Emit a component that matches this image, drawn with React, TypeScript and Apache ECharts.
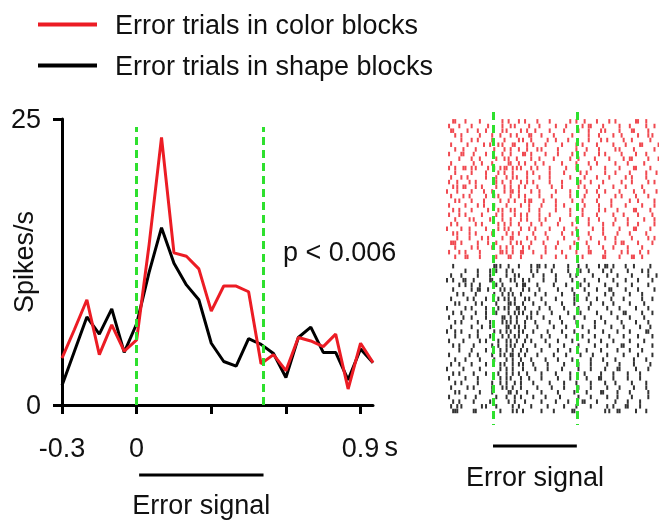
import React, { useEffect, useRef } from 'react';
import * as echarts from 'echarts';

const FONT = '"Liberation Sans", Arial, sans-serif';

// PSTH bins (s)
const times = [-0.3, -0.25, -0.2, -0.15, -0.1, -0.05, 0, 0.05, 0.1, 0.15, 0.2, 0.25, 0.3, 0.35, 0.4, 0.45, 0.5, 0.55, 0.6, 0.65, 0.7, 0.75, 0.8, 0.85, 0.9, 0.95];
const colorBlocks = [4.1, 6.6, 9.2, 4.4, 7.0, 4.7, 5.7, 14.0, 23.4, 13.3, 13.0, 11.9, 8.2, 10.4, 10.4, 9.9, 3.6, 4.4, 3.0, 5.9, 5.6, 5.1, 6.2, 1.4, 5.4, 3.7];
const shapeBlocks = [1.7, 4.7, 7.7, 6.2, 8.4, 4.6, 7.1, 11.6, 15.5, 12.4, 10.5, 9.2, 5.4, 3.8, 3.4, 5.8, 5.3, 4.5, 2.4, 5.9, 6.8, 4.6, 4.6, 2.2, 4.9, 3.7];
const seriesNames = ['Error trials in color blocks', 'Error trials in shape blocks'];
const xTickLabels = ['-0.3', '0', '0.9'];
const yTickLabels = ['0', '25'];
const errorSignal = [0, 0.51];
const signalTop = 24.3;

// Raster: one string per trial, '|' = spike; char i -> t = rasterStart + i * rasterStep
const rasterStart = -0.28;
const rasterStep = 0.0125;
const colorRaster = [
  '...||....|......|..........|..|....|..|.....|.....|.........|..|...|.....|.....|..|.........||...|.......',
  '.|....|.....|.......|......|...|.|......|....|.......|....|.......|..||.....|.......|....|.......|...|...|',
  '..||......|....|...|.......|.|......|..|...|......|......|......|....|.....|.|......|.....||......|......',
  '....|..|........|.....|...|....|..|.....||....|.....|........|.......|....|......|...|.......|....|.|....',
  '.......|....|..|......|.....|......|.|...|.......|...|.....|.........|.....|..|.......|...|........|....|',
  '..|.......|.......|..|...|.|....||.....|..|.....|.......|......|..|......|.......|.....|......||.......|.',
  '....|...|.....|........|....|..|...|...|....|.|.......|........|....|.....|.......|.|......|.........|..',
  '.|.....||....|.....|.......|...|.....||..|......|.....|......|.....|......|..|.......|......|....|......',
  '......|.....|...|.......|...|.|...|......|...|......|.......|...|.......|......|......|..||.......|....|.',
  '..|..........|...|....|.......||...|..|....|...|........|......|.....|...|........|.....|.......|......',
  '.|..|...||..|.|.....|..|..|.||..|.|.|....|..|.....|.......|....|......|......|......|......||......|...',
  '....|.......|......|.....|..|...|......|..|.......|......|.......|..|........|....|......|.......|....|',
  '..|....|..|........|....|....|..|.|....|.....|....|.........|......|.....|.....|.......|..|......|.....',
  '.|...|.....|..|.........|..|...|....|..|..|.......|.....|........|....|.....|........|....|.......|..|.',
  '...|.|..||....|..|......|...|..|...|..|.....|......|....|.......|..|......|......|.....|.......|.......',
  '|....|......|.....|...|.....|..||..|.....|...|.......|......|.......|....|...|......|......|....|.....|',
  '..|.....|..|.......|...|.|.....|...|..|......|.....|........|......|......|.......|..|......|.....|....',
  '....|.|.....|.....|.......|...|..|....|.||.....|.....|.......|....|......|......|........|...|.......|.',
  '.|.......|.....|..|....|.....|......|...|.....|......|...|.........|......|.....|......|.......|.....|..',
  '...|..|.....|.......|....|.|...|.|......|....|.......|......|.....|.......|..|.....|.......||......|...',
  '.|....|..|.......|......|..|.....|..|..|.....|....|.........|.....|......|.......|....|......|......|..',
  '....|......|.|.......|.....|...|....|..|.....|..|......|.......|.....|....|.......|.....|.......|....|.',
  '..|..|........|..|.......|..|..|...|.....|....|.......|......|.......|......|....|......|....|.......|..',
  '|......|...|.......|.....|..|.|.....|...|..|......|......|.....|.......|....|.......|......||......|...',
  '...|.|.....|..|.......|......|..|..|......|.....|.......|....|.......|......|......|.....|.......|.....',
  '.....|.....|.....|..|......|...||......|...|.....|.......|......|.....|......|....|.......|.......|..|.',
  '..|||..|.......|....|...|......|..|.|....|.....|......|.......|.....|.....|.......|..||......|......|..',
  '....|.......|..|......|...|..|..|....|..|.......|....|......|........|......|....|......|......|......',
  '.|....|..|......|.........||.|..|...||....|.....|.......|......|.....||......|.......|..|.....|...|....',
  '....|....||.....|.......|.....||....|.........|......|....|.......|.........||......|.....||...|.......',
];
const shapeRaster = [
  '...|...................||.|...|....|.....|..||..|...|......|....|...|.....|..||..|.....|...|.......|...',
  '.........|.....|.....|..|....|..|........|..|......|.......|.....|...|......|...|.......|......|..|....',
  '..|....|.......|.....|.......|...|.|......|....|.....|......|..|.......|......|....|......|.......|...|',
  '|..|....||...|.......||...|....|.|...|..|......|.....|.......|.....|......|......|.....|.....|......|..',
  '......|..|..|...|.......|..|......|..||.....|.......|.....|......|...|.......|.....|......|.......|....',
  '...|........|..||...|.....|.|..|.....|..|....|........|......|.....|.....|.....||......|.....|.......|.',
  '.....|..|.....|........|...|..|.|...|......|....|.......|.....|......|.......|...|.......|.....|......',
  '..|.......|..|.....|.....|..|.|..|....|.|.....|......|........|.....|....|......|.....|........|....|..',
  '....|.|.......|..|......|.....||.|...|....|.....|.......|.....|.......|.....|....|.......|......|.....',
  '|........|..|......|.....|..|.|...||..|......|....|......|......|....|........|.....|.......|.....|...',
  '...|...|......|....|....|.....|..|.|.|...|..|......|.......|.....|.......|......|.....||.......|....|.',
  '.|......|...|......|.......||..|..|....|.|.....|.......|......|....|.......|.......|.....|......|.....',
  '....|..|.......|.....|.....|.|.|..|...|....|......|.....|......|........|....|.......|......|.....|...',
  '..|.........|....|...|.......||..|.|..|.....|.......|.....|.......|.....|.......|.....|.......|....|...',
  '|...|..|.......|.......|..|..|.|...|.|....|......|......|.....|......|......|......|.....|.......||....',
  '....|......|...|.....|.....|..|..|.|...|......|...|.......|.......|.....|......|......|......|......|..',
  '.|......|.......|..|.....|...|.|..|...|..|......|.....|......|.......|.....|.....|.......|......|.....',
  '...|..|......|........|..|...|.|.|...|.....|......|......|......|.......|.....|......||......|......|..',
  '......|.....|......|......|..|..|...|..|......|.......|.....|.......|......|.......|.....|.....|.......',
  '.|.........|...|......|...|.|..||..|..|.....|.......|.....|......|.....|......|.......|......|......|..',
  '....|....|......|......|.....|..|...|....|......|.....|......|........|.....|.....|........|.....|....',
  '..|...|.....|......|......|.|...|..|.|....|......|.......|......|.....|.......|.....|......|.......|..',
  '|.......|.......|.........|..|..|....|.....|.....|......|.......|.....|......|.....||.......|.....|...',
  '...|..|......|.....|.....|...|..|..|...|......|......|......|......|.......|.....|......|.....|.......',
  '.|.......|.....|..........|..|.|....|...|.....|.......|.....|.......|.....||.....|......|.....|......',
  '....|..|.......|......|...|..|...|..|.....|.......|......|.....|......|......|....|.......|......|....',
  '..|.......|..|........|....|.|..|...|.......|......|.....|......|.....|.......|.....|......|.....|....',
  '....|.|.........|.....|.......||..|....|......|.......|.......|.....|......||......|.....|........|...',
  '.|.......|....|.........|....|...|..|.....|.....|......|........|.....|.......|....|......|.......|...',
  '...|..|......|.......|........|..|....|.......|......|.....|......||.....|........|.....|.....|......',
  '..|..|.|.........|.|....|.......|..|.....|.......|.......|.....|......|.......|..|.....||.....|.......',
  '...|||.......||...........|.....|.|..|........|.....|........||..............|.|...||.......|....|....',
];

function rasterPoints(rows: string[], rowOffset: number) {
  const pts: number[][] = [];
  rows.forEach((row, r) => {
    for (let i = 0; i < row.length; i++) {
      if (row[i] === '|') pts.push([rasterStart + i * rasterStep, r + rowOffset]);
    }
  });
  return pts;
}

const RED = '#ec1c24';
const BLACK = '#000000';
const GREEN = '#2ee02e';

export default function App() {
  const ref = useRef<HTMLDivElement>(null);
  useEffect(() => {
    const chart = echarts.init(ref.current!, null, { renderer: 'svg' });
    const textStyle = { fontFamily: FONT, fontSize: 27, color: '#111' };
    const option: any = {
      animation: false,
      textStyle: { fontFamily: FONT },
      legend: {
        orient: 'vertical',
        left: 33,
        top: 6,
        itemWidth: 59,
        itemHeight: 4,
        itemGap: 14,
        icon: 'rect',
        data: seriesNames,
        textStyle: { ...textStyle, padding: [0, 0, 0, 13] },
      },
      grid: [
        { left: 62, top: 119, width: 311, height: 286, outerBoundsMode: 'none', containLabel: false },
        { left: 447, top: 112, width: 212, height: 313, outerBoundsMode: 'none', containLabel: false },
      ],
      xAxis: [
        {
          gridIndex: 0,
          type: 'value',
          min: -0.3,
          max: 0.95,
          interval: 0.3,
          axisLine: { show: true, onZero: false, lineStyle: { color: '#000', width: 3 } },
          axisTick: { show: true, length: 9, lineStyle: { color: '#000', width: 3 } },
          splitLine: { show: false },
          axisLabel: {
            ...textStyle,
            margin: 29,
            showMaxLabel: false,
            formatter: (v: number) => {
              const s = (Math.round(v * 10) / 10).toString();
              return xTickLabels.includes(s) ? s : '';
            },
          },
        },
        { gridIndex: 1, type: 'value', min: -0.28, max: 1.01, show: false },
      ],
      yAxis: [
        {
          gridIndex: 0,
          type: 'value',
          min: 0,
          max: 25,
          interval: 25,
          axisLine: { show: true, onZero: false, lineStyle: { color: '#000', width: 3 } },
          axisTick: { show: true, length: 9, lineStyle: { color: '#000', width: 3 } },
          splitLine: { show: false },
          axisLabel: {
            ...textStyle,
            margin: 21,
            formatter: (v: number) => (yTickLabels.includes(String(v)) ? String(v) : ''),
          },
          name: 'Spikes/s',
          nameLocation: 'middle',
          nameGap: 25,
          nameMoveOverlap: false,
          nameTextStyle: textStyle,
        },
        { gridIndex: 1, type: 'value', min: -2, max: 65, inverse: true, show: false },
      ],
      series: [
        {
          name: seriesNames[1],
          type: 'line',
          xAxisIndex: 0,
          yAxisIndex: 0,
          data: times.map((t, i) => [t, shapeBlocks[i]]),
          symbol: 'none',
          itemStyle: { color: BLACK },
          lineStyle: { color: BLACK, width: 3 },
          z: 3,
        },
        {
          name: seriesNames[0],
          type: 'line',
          xAxisIndex: 0,
          yAxisIndex: 0,
          data: times.map((t, i) => [t, colorBlocks[i]]),
          symbol: 'none',
          itemStyle: { color: RED },
          lineStyle: { color: RED, width: 3 },
          z: 4,
          markLine: {
            silent: true,
            symbol: 'none',
            label: { show: false },
            lineStyle: { color: GREEN, width: 3, type: [8, 5] },
            data: errorSignal.map((t) => [{ coord: [t, 0] }, { coord: [t, signalTop] }]),
          },
        },
        {
          name: 'color raster',
          type: 'scatter',
          xAxisIndex: 1,
          yAxisIndex: 1,
          symbol: 'rect',
          symbolSize: [2, 4.5],
          itemStyle: { color: RED },
          data: rasterPoints(colorRaster, 0),
          markLine: {
            silent: true,
            symbol: 'none',
            label: { show: false },
            lineStyle: { color: GREEN, width: 3, type: [8, 5] },
            data: errorSignal.map((t) => ({ xAxis: t })),
          },
        },
        {
          name: 'shape raster',
          type: 'scatter',
          xAxisIndex: 1,
          yAxisIndex: 1,
          symbol: 'rect',
          symbolSize: [2, 4.5],
          itemStyle: { color: BLACK },
          data: rasterPoints(shapeRaster, 31),
        },
      ],
    };
    chart.setOption(option);

    const a0 = chart.convertToPixel({ gridIndex: 0 }, [errorSignal[0] + 0.01, 0]) as number[];
    const a1 = chart.convertToPixel({ gridIndex: 0 }, [errorSignal[1], 0]) as number[];
    const b0 = chart.convertToPixel({ gridIndex: 1 }, [errorSignal[0], 0]) as number[];
    const b1 = chart.convertToPixel({ gridIndex: 1 }, [errorSignal[1], 0]) as number[];
    const nine = chart.convertToPixel({ gridIndex: 0 }, [0.9, 0]) as number[];

    chart.setOption({
      graphic: [
        {
          type: 'line',
          shape: { x1: a0[0], y1: 475, x2: a1[0], y2: 475 },
          style: { stroke: '#000', lineWidth: 3 },
        },
        {
          type: 'text',
          x: (a0[0] + a1[0]) / 2,
          y: 505,
          style: { text: 'Error signal', font: `27px ${FONT}`, fill: '#111', textAlign: 'center', textVerticalAlign: 'middle' },
        },
        {
          type: 'line',
          shape: { x1: b0[0], y1: 446, x2: b1[0], y2: 446 },
          style: { stroke: '#000', lineWidth: 3 },
        },
        {
          type: 'text',
          x: (b0[0] + b1[0]) / 2,
          y: 477,
          style: { text: 'Error signal', font: `27px ${FONT}`, fill: '#111', textAlign: 'center', textVerticalAlign: 'middle' },
        },
        {
          type: 'text',
          x: nine[0] + 24,
          y: 447,
          style: { text: 's', font: `27px ${FONT}`, fill: '#111', textAlign: 'left', textVerticalAlign: 'middle' },
        },
        {
          type: 'text',
          x: 283,
          y: 252,
          style: { text: 'p < 0.006', font: `27px ${FONT}`, fill: '#111', textAlign: 'left', textVerticalAlign: 'middle' },
        },
      ],
    });

    return () => chart.dispose();
  }, []);
  return <div ref={ref} style={{ position: 'fixed', left: 0, top: 0, width: 659, height: 521 }} />;
}
